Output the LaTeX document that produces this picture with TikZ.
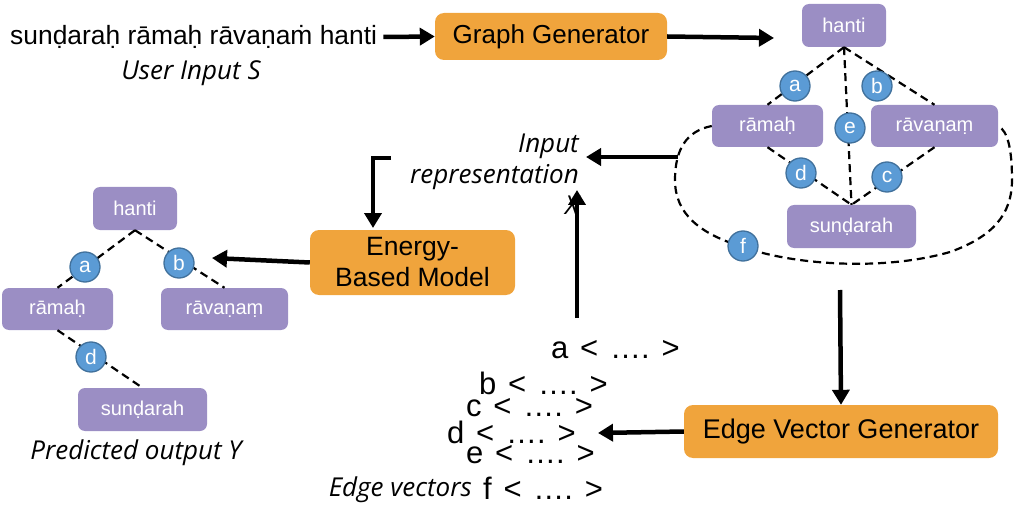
\documentclass[tikz,border=0pt]{standalone}
\usepackage{fontspec}
\setmainfont{Liberation Sans}
\newfontfamily\labelfont{Open Sans}
\usetikzlibrary{arrows.meta}
\definecolor{orangeC}{HTML}{F0A43C}
\definecolor{purpleC}{HTML}{9B8EC4}
\definecolor{blueC}{HTML}{5B9BD5}
\definecolor{blueD}{HTML}{41719C}
\newcommand{\vsp}{\hspace{0.38em}}
\newcommand{\vecrow}[1]{#1\vsp<\vsp….\vsp>}
\tikzset{
  procbox/.style={fill=orangeC, rounded corners=9pt, text=black, align=center, inner sep=0pt, font=\fontsize{26}{30}\selectfont},
  wordbox/.style={fill=purpleC, rounded corners=7pt, text=white, inner sep=0pt, font=\fontsize{20}{24}\selectfont},
  edgecirc/.style={circle, fill=blueC, draw=blueD, line width=1.3pt, minimum size=30pt, inner sep=0pt, text=white, font=\fontsize{21}{22}\selectfont},
  edgeline/.style={dash pattern=on 8pt off 5pt, line width=2.2pt, black},
  arr/.style={line width=4.5pt, -{Triangle[length=15pt,width=17pt]}},
  itlabel/.style={font=\labelfont\itshape\fontsize{26}{31}\selectfont, inner sep=0pt},
  plainlabel/.style={font=\fontsize{26.4}{30}\selectfont, inner sep=0pt},
  vec/.style={font=\fontsize{31}{34}\selectfont, inner sep=0pt, anchor=west},
}
\begin{document}
\begin{tikzpicture}[x=1pt,y=-1pt]
\useasboundingbox (0,0) rectangle (1018,508);
% top input
\node[plainlabel, anchor=west] (sent) at (10,37) {sunḍaraḥ rāmaḥ rāvaṇaṁ hanti};
\node[itlabel] (userin) at (191,73) {User Input S};
% process boxes
\node[procbox, minimum width=232pt, minimum height=47pt] (gg) at (551,36.5) {Graph Generator};
\node[procbox, minimum width=205pt, minimum height=65pt, font=\fontsize{26.5}{31}\selectfont] (ebm) at (412.5,262.5) {Energy-\\Based Model};
\node[procbox, minimum width=314pt, minimum height=53pt, font=\fontsize{27}{30}\selectfont] (evg) at (841,431.5) {Edge Vector Generator};
% right graph
\node[wordbox, minimum width=84pt, minimum height=43pt] (Rhanti) at (844,25.5) {hanti};
\node[wordbox, minimum width=111pt, minimum height=42pt] (Rramah) at (767.5,126) {rāmaḥ};
\node[wordbox, minimum width=127pt, minimum height=42pt] (Rravana) at (934.5,126) {rāvaṇaṃ};
\node[wordbox, minimum width=129pt, minimum height=43pt] (Rsund) at (851.5,226.5) {sunḍarah};
\draw[edgeline] (Rhanti.south) -- (Rramah.north);
\draw[edgeline] (Rhanti.south) -- (Rravana.north);
\draw[edgeline] (Rhanti.south) -- (Rsund.north);
\draw[edgeline] (Rramah.south) -- (Rsund.north);
\draw[edgeline] (Rravana.south) -- (Rsund.north);
\draw[edgeline] (Rramah.west) .. controls (686,131) and (675,150) .. (675,180)
  .. controls (675,214) and (700,234) .. (743,247)
  .. controls (790,264) and (880,272) .. (950,252)
  .. controls (992,237) and (1012,215) .. (1012,180)
  .. controls (1012,150) and (1008,131) .. (Rravana.east);
\node[edgecirc] (Ra) at (795,86) {a};
\node[edgecirc] (Rb) at (877,86) {b};
\node[edgecirc] (Re) at (850,128) {e};
\node[edgecirc] (Rd) at (801,173) {d};
\node[edgecirc] (Rc) at (887,177) {c};
\node[edgecirc] (Rf) at (743,246) {f};
% left graph
\node[wordbox, minimum width=84pt, minimum height=43pt] (Lhanti) at (135,208.5) {hanti};
\node[wordbox, minimum width=111pt, minimum height=42pt] (Lramah) at (57.5,309) {rāmaḥ};
\node[wordbox, minimum width=127pt, minimum height=42pt] (Lravana) at (224.5,309) {rāvaṇaṃ};
\node[wordbox, minimum width=129pt, minimum height=43pt] (Lsund) at (142.5,409.5) {sunḍarah};
\draw[edgeline] (Lhanti.south) -- (Lramah.north);
\draw[edgeline] (Lhanti.south) -- (Lravana.north);
\draw[edgeline] (Lramah.south) -- (Lsund.north);
\node[edgecirc] (La) at (85,267) {a};
\node[edgecirc] (Lb) at (179,263) {b};
\node[edgecirc] (Ld) at (91,357) {d};
\node[itlabel] (pred) at (136,453) {Predicted output Y};
% input representation
\node[itlabel, align=right, anchor=east] (inrep) at (579,174) {Input\\representation\\X};
% edge vectors
\node[vec] (va) at (551,350) {\vecrow{a}};
\node[vec] (vb) at (479,383) {\vecrow{b}};
\node[vec] (vc) at (466,408) {\vecrow{c}};
\node[vec] (vd) at (447,432) {\vecrow{d}};
\node[vec] (ve) at (466,455) {\vecrow{e}};
\node[vec] (vf) at (483,488) {\vecrow{f}};
\node[itlabel, anchor=east] (evlab) at (472,490) {Edge vectors};
% arrows
\coordinate (ggEnd) at (774,38);
\coordinate (loopL) at (678,157);
\coordinate (repEnd) at (586,157);
\coordinate (upStart) at (577,318);
\coordinate (upEnd) at (577,190);
\coordinate (brStart) at (391,158);
\coordinate (brEnd) at (373,228);
\coordinate (ebmEnd) at (212,258);
\coordinate (vecEnd) at (598,433);
\draw[arr] (sent.east) ++(6,0) -- (gg.west);
\draw[arr] (gg.east) -- (ggEnd);
\draw[arr] (loopL) -- (repEnd);
\draw[arr] (upStart) -- (upEnd);
\draw[arr] (brStart) -| (brEnd);
\draw[arr] (ebm.west) -- (ebmEnd);
\draw[arr] (840,290) -- (evg.north);
\draw[arr] (evg.west) -- (vecEnd);
\end{tikzpicture}
\end{document}
